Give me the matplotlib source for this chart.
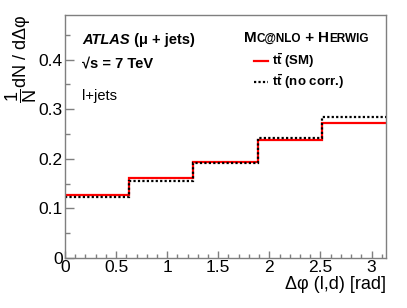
import numpy as np
import matplotlib
matplotlib.use("Agg")
import matplotlib.pyplot as plt
from matplotlib.ticker import MultipleLocator

plt.rcParams['font.family'] = ['Liberation Sans', 'DejaVu Sans']
plt.rcParams['mathtext.fontset'] = 'custom'
plt.rcParams['mathtext.rm'] = 'Liberation Sans'
plt.rcParams['mathtext.it'] = 'Liberation Sans:italic'
plt.rcParams['mathtext.bf'] = 'Liberation Sans:bold'

# Data
bin_edges = np.linspace(0, np.pi, 6)
sm_values = [0.128, 0.162, 0.194, 0.237, 0.273]
nocorr_values = [0.122, 0.156, 0.192, 0.241, 0.285]
series_labels = [r'$\mathbf{t\bar{t}}$ (SM)', r'$\mathbf{t\bar{t}}$ (no corr.)']
x_ticks = [0, 0.5, 1, 1.5, 2, 2.5, 3]
x_ticklabels = ['0', '0.5', '1', '1.5', '2', '2.5', '3']
y_ticks = [0, 0.1, 0.2, 0.3, 0.4]
y_ticklabels = ['0', '0.1', '0.2', '0.3', '0.4']

fig = plt.figure(figsize=(4.07, 3.08), dpi=100)
ax = fig.add_axes([65/407, 50/308, 321/407, 243/308])

ax.stairs(sm_values, bin_edges, color='#ff0000', lw=1.6, label=series_labels[0], baseline=None)
ax.stairs(nocorr_values, bin_edges, color='black', lw=1.6, ls=(0, (1, 1)),
          label=series_labels[1], baseline=None)

ax.set_xlim(0, np.pi)
ax.set_ylim(0, 0.49)
ax.xaxis.set_minor_locator(MultipleLocator(0.1))
ax.yaxis.set_minor_locator(MultipleLocator(0.05))
ax.set_xticks(x_ticks)
ax.set_xticklabels(x_ticklabels)
ax.set_yticks(y_ticks)
ax.set_yticklabels(y_ticklabels)
spine_col = '#7f7f7f'
for s in ax.spines.values():
    s.set_color(spine_col)
    s.set_linewidth(1.0)
ax.tick_params(which='both', direction='in', colors=spine_col, labelcolor='black',
               labelsize=12.5, top=False, right=False)
ax.tick_params(axis='x', which='major', length=5, width=1, pad=1.5)
ax.tick_params(axis='x', which='minor', length=3, width=1)
ax.tick_params(axis='y', which='major', length=6.5, width=1, pad=1.5)
ax.tick_params(axis='y', which='minor', length=3.5, width=1)

ax.set_xlabel('Δφ (l,d) [rad]', fontsize=13, loc='right', labelpad=0.5)
ax.set_ylabel(r'$\dfrac{1}{\mathrm{N}}$dN / dΔφ', fontsize=13, loc='top', labelpad=0)

fig.canvas.draw()
renderer = fig.canvas.get_renderer()


def place_seq(pieces, x0, y0):
    """Place text pieces one after another on a common baseline (axes coords)."""
    x = x0
    for txt, kw in pieces:
        t = ax.text(x, y0, txt, transform=ax.transAxes, va='baseline', ha='left', **kw)
        bb = t.get_window_extent(renderer)
        x = ax.transAxes.inverted().transform((bb.x1, bb.y0))[0]


# ATLAS label
place_seq([('ATLAS', dict(fontsize=10.5, fontweight='bold', fontstyle='italic')),
           (' (μ + jets)', dict(fontsize=10.5, fontweight='bold'))], 0.053, 0.88)
ax.text(0.053, 0.785, '√s = 7 TeV', transform=ax.transAxes, fontsize=10.5,
        fontweight='bold', va='baseline')
ax.text(0.053, 0.65, 'l+jets', transform=ax.transAxes, fontsize=10.5, va='baseline')

# Generator header with small caps
big = dict(fontsize=11, fontweight='bold')
small = dict(fontsize=8.5, fontweight='bold')
place_seq([('M', big), ('C@NLO', small), (' + ', big), ('H', big), ('ERWIG', small)],
          0.557, 0.888)

leg = ax.legend(loc='upper left', bbox_to_anchor=(0.59, 0.85), frameon=False,
                borderpad=0, borderaxespad=0, handlelength=1.0, handletextpad=0.3,
                labelspacing=0.15, prop={'size': 9.5, 'weight': 'bold'})

fig.savefig('out.png', dpi=100)
